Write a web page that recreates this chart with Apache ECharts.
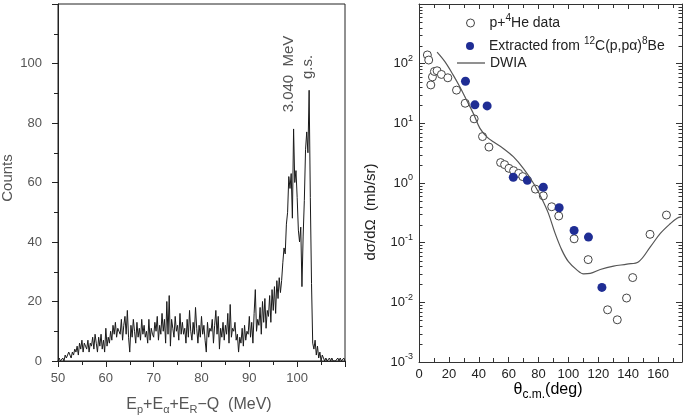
<!DOCTYPE html>
<html><head><meta charset="utf-8">
<script src="https://cdn.jsdelivr.net/npm/echarts@6/dist/echarts.min.js"></script>
<style>html,body{margin:0;padding:0;background:#fff}#c{width:685px;height:420px}</style>
</head><body><div id="c"></div>
<script>
// ---------- Left panel: spectrum ----------
const histStart = 50;      // MeV, first bin
const histStep = 0.25;     // MeV per bin
const histCounts = [
  0,1,0,0,   1,0,2,1,   1,3,2,1,   3,2,4,3,   5,2,6,4,     // 50-54
  7,3,6,5,   4,7,3,6,   5,8,4,9,   6,3,8,5,   9,4,7,3,     // 55-59
  11,5,8,6,  10,7,12,9, 13,8,11,10, 9,14,7,12, 15,9,17,8,  // 60-64
  3,12,8,14, 10,6,13,8, 11,7,14,9, 12,8,10,6, 14,7,11,9,   // 65-69
  8,13,10,15, 7,12,9,16, 10,14,6,20, 9,22,5,14, 11,8,15,10, // 70-74
  12,7,16,9, 13,9,11,6, 14,8,17,10, 7,13,9,18, 11,6,12,8,  // 75-79
  15,9,12,7, 3,13,8,11, 10,14,6,12, 17,9,15,4, 11,8,13,7,  // 80-84
  12,9,16,6, 19,8,11,10, 13,7,9,3, 8,6,11,5, 12,7,10,9,    // 85-89
  15,8,13,6, 16,24,10,14, 12,18,9,20, 13,21,11,17, 15,22,13,24, // 90-94
  17,25,16,27, 21,28,23,27, 33,38,36,46, 50,62,58,63, 48,78,60,64, // 95-99
  55,44,40,45, 25,42,54,71, 77,70,91,55, 26,6,4,7, 2,5,1,3, // 100-104
  0,2,1,0,   1,0,0,1,   0,1,0,0,   0,0,1,0,   1,0,0,1,     // 105-109
  0                                                        // 110
];
const leftXTickLabels = [50, 60, 70, 80, 90, 100];
const leftYTickLabels = [0, 20, 40, 60, 80, 100];

// ---------- Right panel: angular distribution ----------
const heAngles = [5.6, 6.5, 7.9, 9.0, 10.3, 12.1, 15.0, 19.3, 25.1, 30.9, 36.9, 42.5, 46.8,
  54.6, 57.3, 60.2, 63.3, 66.7, 69.4, 77.9, 83.2, 88.8, 93.5, 103.8, 113.2, 126.2, 132.7,
  138.9, 143.0, 154.6, 165.6];
const heValues = [140, 115, 44, 60, 74, 76, 66, 58, 36, 21.7, 11.9, 6.0, 4.0,
  2.2, 2.03, 1.76, 1.61, 1.45, 1.28, 0.79, 0.61, 0.40, 0.28, 0.116, 0.052, 0.0075, 0.0051,
  0.0118, 0.026, 0.138, 0.29];

const extAngles = [31.1, 37.4, 45.6, 63.1, 72.5, 83.2, 93.8, 103.8, 113.4, 122.4];
const extValues = [50.8, 20.4, 19.6, 1.25, 1.11, 0.85, 0.385, 0.16, 0.124, 0.0178];

const dwiaAngles = [12.1, 17.2, 22.8, 27.3, 31.8, 36.3, 40.7, 45.2, 49.7, 56.4, 63.1, 69.8,
  76.5, 82.1, 86.6, 91.1, 95.6, 100.0, 105.6, 110.1, 114.6, 121.3, 130.2, 139.2, 147.0,
  154.8, 161.5, 168.3, 172.7, 175.5];
const dwiaValues = [156, 109, 65, 41, 24.7, 14.8, 8.3, 6.0, 4.9, 3.8, 2.76, 1.76,
  1.0, 0.55, 0.31, 0.143, 0.075, 0.048, 0.035, 0.030, 0.0305, 0.0355, 0.0405, 0.0437, 0.048,
  0.085, 0.143, 0.21, 0.257, 0.27];

const rightXTickLabels = [0, 20, 40, 60, 80, 100, 120, 140, 160];
const rightYDecades = [-3, -2, -1, 0, 1, 2];
const logMinorTicks = [];
[-3, -2, -1, 0, 1, 2].forEach(function (k) {
  for (let d = 2; d <= 9; d++) logMinorTicks.push(d * Math.pow(10, k));
});

// ---------- build ----------
const histData = histCounts.map(function (c, i) { return [histStart + i * histStep, c]; });
const heData = heAngles.map(function (a, i) { return [a, heValues[i]]; });
const extData = extAngles.map(function (a, i) { return [a, extValues[i]]; });
const dwiaData = dwiaAngles.map(function (a, i) { return [a, dwiaValues[i]]; });

const FONT = '"Liberation Sans", Arial, sans-serif';
const RX_MAX = 176;

const chart = echarts.init(document.getElementById('c'), null, { renderer: 'canvas' });

const legendRich = {
  n: { fontSize: 14, fontFamily: FONT, color: '#222' },
  sup: { fontSize: 10, fontFamily: FONT, color: '#222', padding: [0, 0, 10, 0] }
};
const legendNames = {
  he: '{n|p+}{sup|4}{n|He data}',
  ext: '{n|Extracted from }{sup|12}{n|C(p,p\u03b1)}{sup|8}{n|Be}',
  dwia: '{n|DWIA}'
};
function mkLegend(name, left, top, extra) {
  const lg = {
    data: [name], left: left, top: top, orient: 'vertical', padding: 0,
    itemWidth: 28, itemHeight: 8, itemGap: 0, selectedMode: false,
    itemStyle: { borderWidth: 1 },
    formatter: function (n) { return legendNames[n]; },
    textStyle: { fontSize: 14, fontFamily: FONT, color: '#222', rich: legendRich }
  };
  return Object.assign(lg, extra || {});
}

const option = {
  animation: false,
  backgroundColor: '#fff',
  grid: [
    { left: 58, top: 4, width: 287, height: 357, show: true, borderColor: '#222', borderWidth: 1 },
    { left: 419, top: 4, width: 263, height: 358 }
  ],
  legend: [
    mkLegend('he', 466, 13),
    mkLegend('ext', 466, 36),
    mkLegend('dwia', 457, 56, { data: [{ name: 'dwia', icon: 'rect' }], itemHeight: 1.3, itemStyle: { color: '#555', borderWidth: 0 } })
  ],
  xAxis: [
    {
      gridIndex: 0, type: 'value', min: 50, max: 110, interval: 10,
      axisLine: { lineStyle: { color: '#222', width: 1 } },
      axisTick: { inside: false, length: 6, lineStyle: { color: '#222' } },
      minorTick: { show: true, splitNumber: 2, length: 4, lineStyle: { color: '#222' } },
      splitLine: { show: false },
      axisLabel: {
        margin: 11, fontSize: 13, fontFamily: FONT, color: '#555', showMaxLabel: false,
        formatter: function (v) { return leftXTickLabels.indexOf(v) >= 0 ? String(v) : ''; }
      }
    },
    {
      gridIndex: 1, type: 'value', min: 0, max: RX_MAX, interval: 20, position: 'bottom',
      axisLine: { onZero: false, lineStyle: { color: '#333', width: 1 } },
      axisTick: { inside: true, length: 5, lineStyle: { color: '#333' } },
      minorTick: { show: true, splitNumber: 2, length: 4, lineStyle: { color: '#333' } },
      splitLine: { show: false },
      axisLabel: {
        margin: 6, fontSize: 13, fontFamily: FONT, color: '#222', showMaxLabel: false,
        formatter: function (v) { return rightXTickLabels.indexOf(v) >= 0 ? String(v) : ''; }
      }
    },
    {
      gridIndex: 1, type: 'value', min: 0, max: RX_MAX, interval: 20, position: 'top',
      axisLine: { onZero: false, lineStyle: { color: '#333', width: 1 } },
      axisTick: { inside: true, length: 5, lineStyle: { color: '#333' } },
      minorTick: { show: true, splitNumber: 2, length: 4, lineStyle: { color: '#333' } },
      splitLine: { show: false }, axisLabel: { show: false }
    }
  ],
  yAxis: [
    {
      gridIndex: 0, type: 'value', min: 0, max: 120, interval: 20,
      axisLine: { show: true, lineStyle: { color: '#222', width: 1 } },
      axisTick: { show: true, inside: false, length: 6, lineStyle: { color: '#222' } },
      minorTick: { show: true, splitNumber: 2, length: 4, lineStyle: { color: '#222' } },
      splitLine: { show: false },
      axisLabel: {
        margin: 16, fontSize: 13, fontFamily: FONT, color: '#555', showMaxLabel: false,
        formatter: function (v) { return leftYTickLabels.indexOf(v) >= 0 ? String(v) : ''; }
      }
    },
    {
      gridIndex: 1, type: 'log', logBase: 10, min: 0.001, max: 1000, interval: 1,
      axisLine: { show: true, onZero: false, lineStyle: { color: '#333', width: 1 } },
      axisTick: { show: true, inside: true, length: 6, lineStyle: { color: '#333' } },
      splitLine: { show: false },
      axisLabel: {
        margin: 6, showMaxLabel: false,
        formatter: function (v) {
          const e = Math.round(Math.log10(v));
          if (rightYDecades.indexOf(e) < 0) return '';
          return '{b|10}{s|' + e + '}';
        },
        rich: {
          b: { fontSize: 13, fontFamily: FONT, color: '#222' },
          s: { fontSize: 9, fontFamily: FONT, color: '#222', padding: [0, 0, 10, 0] }
        }
      }
    },
    {
      gridIndex: 1, type: 'log', logBase: 10, min: 0.001, max: 1000, interval: 1, position: 'right',
      axisLine: { show: true, onZero: false, lineStyle: { color: '#333', width: 1 } },
      axisTick: { show: true, inside: true, length: 6, lineStyle: { color: '#333' } },
      splitLine: { show: false }, axisLabel: { show: false }
    }
  ],
  graphic: [
    { type: 'text', x: 8, y: 178, rotation: Math.PI / 2,
      style: { text: 'Counts', fontSize: 15, fontFamily: FONT, fill: '#555', align: 'center', verticalAlign: 'middle' } },
    { type: 'text', x: 199, y: 405,
      style: { text: '{n|E}{s|p}{n|+E}{s|\u03b1}{n|+E}{s|R}{n|\u2212Q  (MeV)}', align: 'center', verticalAlign: 'middle',
        rich: {
          n: { fontSize: 16, fontFamily: FONT, fill: '#555', color: '#555' },
          s: { fontSize: 11, fontFamily: FONT, fill: '#555', color: '#555', padding: [10, 0, 0, 0] }
        } } },
    { type: 'text', x: 289, y: 74, rotation: Math.PI / 2,
      style: { text: '3.040  MeV', fontSize: 15, fontFamily: FONT, fill: '#555', align: 'center', verticalAlign: 'middle' } },
    { type: 'text', x: 308, y: 67, rotation: Math.PI / 2,
      style: { text: 'g.s.', fontSize: 15, fontFamily: FONT, fill: '#555', align: 'center', verticalAlign: 'middle' } },
    { type: 'text', x: 371, y: 212, rotation: Math.PI / 2,
      style: { text: 'd\u03c3/d\u03a9  (mb/sr)', fontSize: 15, fontFamily: FONT, fill: '#222', align: 'center', verticalAlign: 'middle' } },
    { type: 'text', x: 548, y: 390,
      style: { text: '{n|\u03b8}{s|c.m.}{n|(deg)}', align: 'center', verticalAlign: 'middle',
        rich: {
          n: { fontSize: 16, fontFamily: FONT, color: '#222' },
          s: { fontSize: 12, fontFamily: FONT, color: '#222', padding: [9, 0, 0, 0] }
        } } }
  ],
  series: [
    {
      name: 'spectrum', type: 'line', xAxisIndex: 0, yAxisIndex: 0, data: histData,
      showSymbol: false, symbol: 'none', lineStyle: { color: '#1a1a1a', width: 1 }, silent: true
    },
    {
      name: 'dwia', type: 'line', xAxisIndex: 1, yAxisIndex: 1, data: dwiaData, smooth: 0.35,
      showSymbol: false, symbol: 'none', lineStyle: { color: '#555', width: 1.2 }, itemStyle: { color: '#555' }
    },
    {
      name: 'he', type: 'scatter', xAxisIndex: 1, yAxisIndex: 1, data: heData,
      symbol: 'circle', symbolSize: 8,
      itemStyle: { color: '#fff', borderColor: '#444', borderWidth: 1, opacity: 1 }
    },
    {
      name: 'ext', type: 'scatter', xAxisIndex: 1, yAxisIndex: 1, data: extData,
      symbol: 'circle', symbolSize: 9, itemStyle: { color: '#1f2d94', opacity: 1 }
    },
    {
      name: 'minorTicks', type: 'custom', xAxisIndex: 1, yAxisIndex: 1, silent: true, z: 5,
      data: logMinorTicks.map(function (v) { return [0, v]; }),
      renderItem: function (params, api) {
        const v = api.value(1);
        const p0 = api.coord([0, v]);
        const p1 = api.coord([RX_MAX, v]);
        const st = { stroke: '#333', lineWidth: 1 };
        return { type: 'group', children: [
          { type: 'line', shape: { x1: p0[0], y1: Math.round(p0[1]) + 0.5, x2: p0[0] + 3.5, y2: Math.round(p0[1]) + 0.5 }, style: st },
          { type: 'line', shape: { x1: p1[0] - 3.5, y1: Math.round(p1[1]) + 0.5, x2: p1[0], y2: Math.round(p1[1]) + 0.5 }, style: st }
        ] };
      }
    }
  ]
};
chart.setOption(option);
</script>
</body></html>
